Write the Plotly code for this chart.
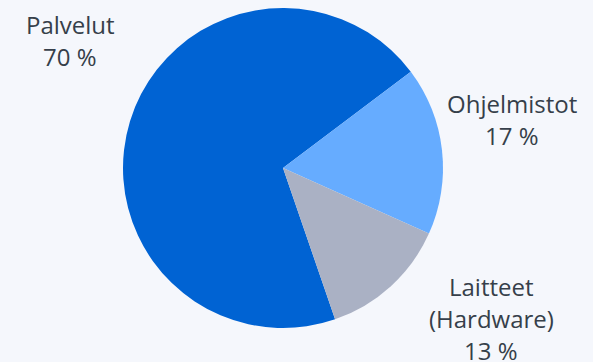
import plotly.graph_objects as go

labels = ["Palvelut", "Ohjelmistot", "Laitteet"]
values = [70, 17, 13]
label_lines = [["Palvelut", "70 %"], ["Ohjelmistot", "17 %"], ["Laitteet", "(Hardware)", "13 %"]]
colors = ["#0063d3", "#66acff", "#aab1c4"]

W, H = 593, 362
cx, cy, r = 283, 168, 160

fig = go.Figure(go.Pie(
    labels=labels, values=values, sort=False, direction="clockwise",
    rotation=161, textinfo="none", hoverinfo="label+percent",
    marker=dict(colors=colors, line=dict(width=0)),
    domain=dict(x=[(cx - r) / W, (cx + r) / W], y=[(H - cy - r) / H, (H - cy + r) / H]),
    showlegend=False,
))

# label anchor positions (pixel centre x, first line centre y)
anchors = [(70, 25), (512, 104), (491, 286)]
line_h = 32
ann = []
for lines, (ax, ay) in zip(label_lines, anchors):
    for i, t in enumerate(lines):
        ann.append(dict(text=t, x=ax / W, y=1 - (ay + i * line_h) / H, xref="paper", yref="paper",
                        xanchor="center", yanchor="middle", showarrow=False,
                        font=dict(family="Open Sans", size=24, color="#363f4a")))

fig.update_layout(width=W, height=H, margin=dict(l=0, r=0, t=0, b=0),
                  paper_bgcolor="#f5f7fc", plot_bgcolor="#f5f7fc", annotations=ann)
fig.write_html("out.html")
